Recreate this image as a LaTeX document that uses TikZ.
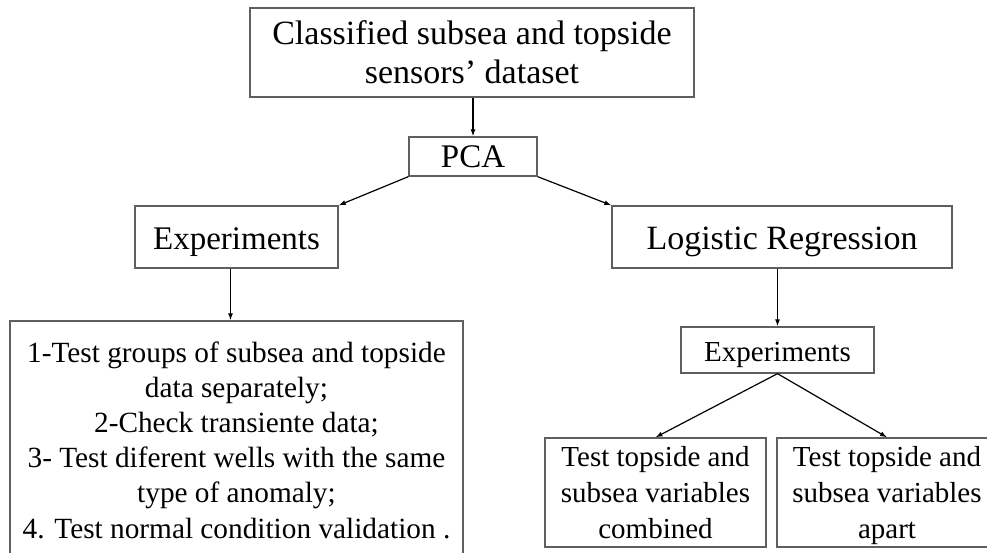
\documentclass[tikz,border=0pt]{standalone}
\usepackage{fontspec}
\setmainfont{Liberation Serif}
\usetikzlibrary{arrows.meta}
\definecolor{boxgray}{RGB}{95,95,95}
\begin{document}
\begin{tikzpicture}[x=1pt,y=-1pt,
  box/.style={draw=boxgray, line width=1.3pt, rectangle, inner sep=0pt, align=center},
  big/.style={font=\fontsize{34}{38.3}\selectfont},
  mid/.style={font=\fontsize{29.3}{35.2}\selectfont},
  small/.style={font=\fontsize{29}{35.8}\selectfont},
  arr/.style={draw=black, line width=1.2pt, -{Latex[length=7pt,width=5pt]}}]
\useasboundingbox (0,0) rectangle (987,553);
\clip (0,0) rectangle (987,553);

% boxes (text height/depth fix the baseline of the last line)
\node[box, big, text height=61.6pt, text depth=0pt,
      minimum width=444pt, minimum height=89pt] (src) at (472,52.5)
  {Classified subsea and topside\\sensors’ dataset};
\node[box, font=\fontsize{33}{38}\selectfont, text height=23pt, text depth=0pt,
      minimum width=128pt, minimum height=39pt] (pca) at (473,156.5) {PCA};
\node[box, font=\fontsize{33}{38}\selectfont, text height=26pt, text depth=0pt,
      minimum width=203pt, minimum height=62pt] (expA) at (236.5,237) {Experiments};
\node[box, big, text height=26pt, text depth=0pt,
      minimum width=340pt, minimum height=62pt] (logreg) at (782,237) {Logistic Regression};
\node[box, mid, text height=195pt, text depth=0pt,
      minimum width=453pt, minimum height=239pt] (tests) at (236.5,440.5)
  {1-Test groups of subsea and topside\\data separately;\\2-Check transiente data;\\3- Test diferent wells with the same\\type of anomaly;\\4. Test normal condition validation .};
\node[box, small, text height=23.4pt, text depth=0pt,
      minimum width=193pt, minimum height=46pt] (expB) at (777.5,350) {Experiments};
\node[box, small, text height=91.6pt, text depth=0pt,
      minimum width=221pt, minimum height=109pt] (comb) at (655.5,492.5)
  {Test topside and\\subsea variables\\combined};
\node[box, small, text height=91.6pt, text depth=0pt,
      minimum width=220pt, minimum height=109pt] (apart) at (887,492.5)
  {Test topside and\\subsea variables\\apart};

% connectors
\draw[arr] (pca.north |- src.south) -- (pca.north);
\draw[arr] (pca.south west) -- (expA.north east);
\draw[arr] (pca.south east) -- (logreg.north west);
\draw[arr] ([xshift=-6pt]expA.south) -- ([xshift=-6pt]expA.south |- tests.north);
\draw[arr] (expB.north |- logreg.south) -- (expB.north);
\draw[arr] (expB.south) -- (comb.north);
\draw[arr] (expB.south) -- (apart.north);
\end{tikzpicture}
\end{document}
